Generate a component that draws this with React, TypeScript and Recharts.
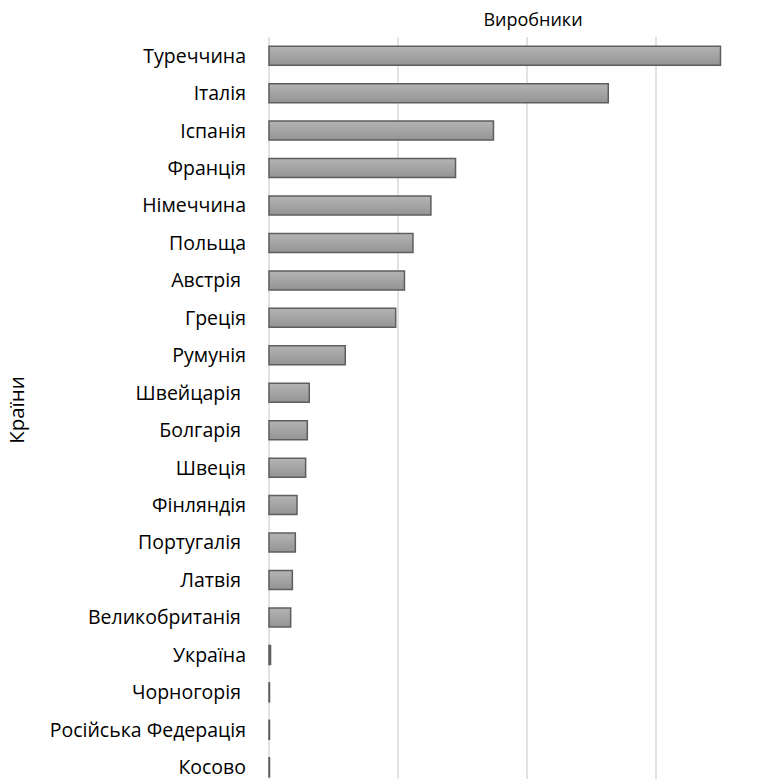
import { BarChart, Bar, XAxis, YAxis, CartesianGrid } from "recharts";

const countries = [
  "Туреччина",
  "Італія",
  "Іспанія",
  "Франція",
  "Німеччина",
  "Польща",
  "Австрія ",
  "Греція",
  "Румунія",
  "Швейцарія ",
  "Болгарія ",
  "Швеція",
  "Фінляндія",
  "Португалія ",
  "Латвія ",
  "Великобританія ",
  "Україна",
  "Чорногорія ",
  "Російська Федерація",
  "Косово",
];

const producers = [
  350, 263, 174, 144.6, 125.5, 111.6, 105, 98.2, 59.1, 31.2, 29.7, 28.4, 21.7, 20.4, 18.1, 16.8,
  1.2, 0.4, 0.4, 0.4,
];

const xTicks = [0, 100, 200, 300, 400];

const data = countries.map((name, i) => ({ name, value: producers[i] }));

const FONT = "'Open Sans', sans-serif";

export default function App() {
  return (
    <div
      style={{
        position: "absolute",
        left: 0,
        top: 0,
        width: 779,
        height: 779,
        overflow: "hidden",
        background: "#fff",
        fontFamily: FONT,
      }}
    >
      <div
        style={{
          position: "absolute",
          left: 433,
          width: 200,
          top: 5,
          textAlign: "center",
          fontSize: 18,
          lineHeight: "28px",
          color: "#000",
        }}
      >
        Виробники
      </div>
      <div
        style={{
          position: "absolute",
          left: 16,
          top: 410,
          transform: "translate(-50%, -50%) rotate(-90deg)",
          fontSize: 20.5,
          color: "#000",
          whiteSpace: "nowrap",
        }}
      >
        Країни
      </div>
      <BarChart
        width={800}
        height={800}
        data={data}
        layout="vertical"
        margin={{ top: 37, right: 15, bottom: 14, left: 0 }}
        barCategoryGap="24.6%"
      >
        <defs>
          <linearGradient id="barFill" x1="0" y1="0" x2="0" y2="1">
            <stop offset="0%" stopColor="#b4b4b4" />
            <stop offset="100%" stopColor="#949494" />
          </linearGradient>
        </defs>
        <CartesianGrid vertical horizontal={false} stroke="#d9d9d9" strokeWidth={1.5} />
        <XAxis type="number" domain={[0, 400]} ticks={xTicks} hide />
        <YAxis
          type="category"
          dataKey="name"
          width={269}
          axisLine={false}
          tickLine={false}
          tickSize={0}
          tickMargin={23}
          interval={0}
          tick={{ fill: "#000", fontSize: 19.5, fontFamily: FONT, style: { whiteSpace: "pre" } }}
        />
        <Bar
          dataKey="value"
          fill="url(#barFill)"
          stroke="#5e5e5e"
          strokeWidth={1.5}
          isAnimationActive={false}
        />
      </BarChart>
    </div>
  );
}
